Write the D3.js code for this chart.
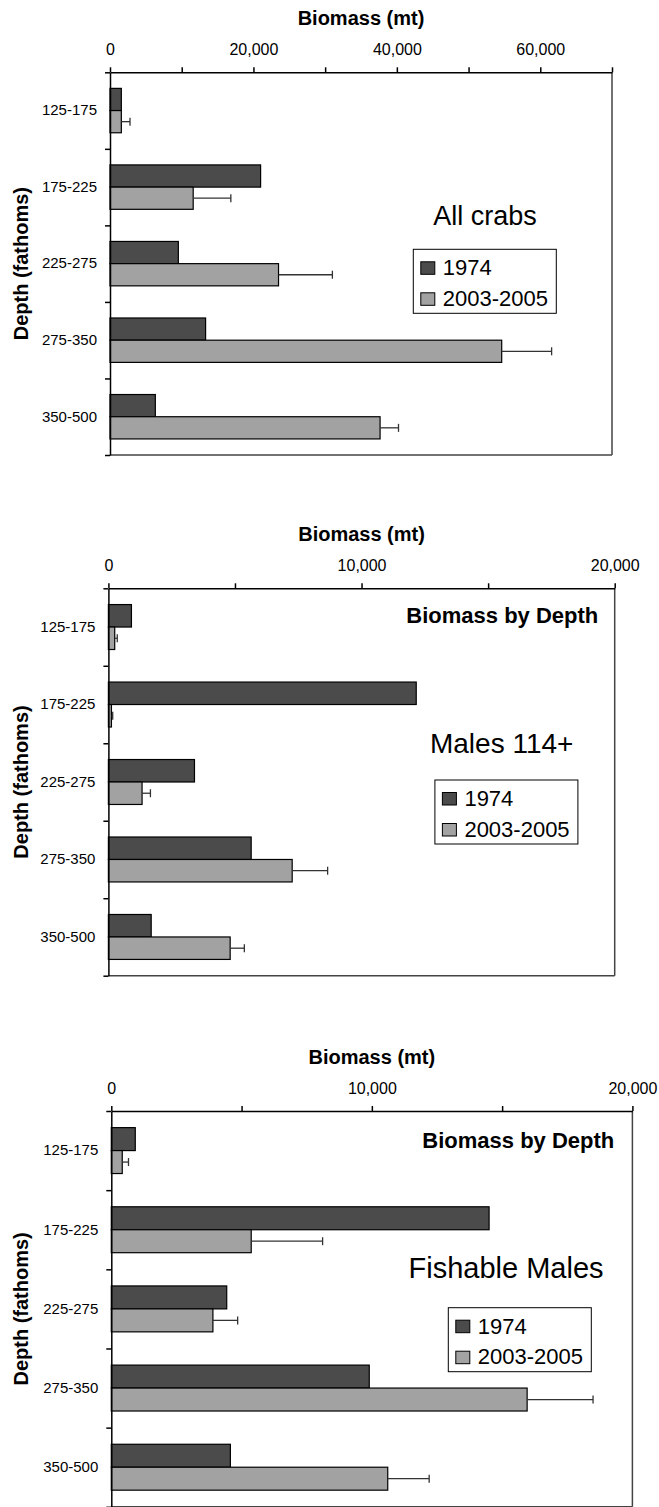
<!DOCTYPE html>
<html>
<head>
<meta charset="utf-8">
<script src="https://d3js.org/d3.v7.min.js"></script>
<style>
  body { margin: 0; background: #fff; }
  svg { display: block; }
  text { font-family: "Liberation Sans", Arial, sans-serif; fill: #000; }
</style>
</head>
<body>
<svg id="chart" width="659" height="1507"></svg>
<script>

// depth strata (fathoms) and the two survey periods
var depths = ['125-175', '175-225', '225-275', '275-350', '350-500'];
var seriesNames = ['1974', '2003-2005'];

// all crabs, biomass (mt)
var allCrabs1974 = [1580, 21000, 9530, 13330, 6320];
var allCrabs0305 = [1580, 11600, 23500, 54620, 37660];
var allCrabsErr = [1210, 5250, 7510, 6960, 2570];

// males 114+
var males1974 = [910, 12160, 3400, 5640, 1690];
var males0305 = [250, 120, 1330, 7260, 4810];
var malesErr = [100, 50, 330, 1400, 560];

// fishable males
var fish1974 = [920, 14500, 4430, 9900, 4570];
var fish0305 = [420, 5370, 3900, 15960, 10610];
var fishErr = [240, 2740, 950, 2530, 1590];

var colors = ['#4b4b4b', '#a2a2a2'];
var fmt = d3.format(',');

// one entry per chart, layout kept apart from the values
var panels = [
    {
        values: [allCrabs1974, allCrabs0305], err: allCrabsErr,
        max: 70000, tickStep: 10000, labelStep: 20000,
        left: 110, right: 612, top: 72.3, bottom: 455,
        label: 'All crabs', labelSize: 27, labelX: 485, labelY: 225,
        subtitle: null,
        legendX: 413.3, legendY: 249.3
    },
    {
        values: [males1974, males0305], err: malesErr,
        max: 20000, tickStep: 5000, labelStep: 10000,
        left: 108.4, right: 614.7, top: 588.3, bottom: 975.7,
        label: 'Males 114+', labelSize: 28, labelX: 501.7, labelY: 753.3,
        subtitle: 'Biomass by Depth', subX: 598.3, subY: 623.3,
        legendX: 434.9, legendY: 780
    },
    {
        values: [fish1974, fish0305], err: fishErr,
        max: 20000, tickStep: 5000, labelStep: 10000,
        left: 111.3, right: 632.4, top: 1111, bottom: 1506.8,
        label: 'Fishable Males', labelSize: 29, labelX: 506, labelY: 1278.3,
        subtitle: 'Biomass by Depth', subX: 614.3, subY: 1148.3,
        legendX: 448.3, legendY: 1307.7
    }
];

var svg = d3.select('#chart');

panels.forEach(function (p) {

    var g = svg.append('g');

    var x = d3.scaleLinear().domain([0, p.max]).range([p.left, p.right]);

    var y = d3.scaleBand()
        .domain(depths)
        .range([p.top, p.bottom])
        .paddingInner(0.42)
        .paddingOuter(0.21);

    var ySub = d3.scaleBand()
        .domain(d3.range(seriesNames.length))
        .range([0, y.bandwidth()]);

    // bars
    p.values.forEach(function (vals, s) {
        g.selectAll(null)
            .data(vals)
            .enter()
            .append('rect')
            .attr('x', x(0))
            .attr('y', function (d, i) { return y(depths[i]) + ySub(s); })
            .attr('width', function (d) { return x(d) - x(0); })
            .attr('height', ySub.bandwidth())
            .attr('fill', colors[s])
            .attr('stroke', '#000')
            .attr('stroke-width', 1.2);
    });

    // error bars on the recent survey
    var recent = p.values[1];
    var errG = g.append('g')
        .attr('stroke', '#333')
        .attr('stroke-width', 1.3);

    recent.forEach(function (v, i) {
        var cy = y(depths[i]) + ySub(1) + ySub.bandwidth() / 2;
        var xe = x(v + p.err[i]);
        errG.append('line')
            .attr('x1', x(v)).attr('x2', xe)
            .attr('y1', cy).attr('y2', cy);
        errG.append('line')
            .attr('x1', xe).attr('x2', xe)
            .attr('y1', cy - 4).attr('y2', cy + 4);
    });

    // plot frame on the right and bottom
    g.append('line')
        .attr('x1', p.right).attr('x2', p.right)
        .attr('y1', p.top).attr('y2', p.bottom)
        .attr('stroke', '#444').attr('stroke-width', 1.5);
    g.append('line')
        .attr('x1', p.left).attr('x2', p.right)
        .attr('y1', p.bottom).attr('y2', p.bottom)
        .attr('stroke', '#444').attr('stroke-width', 1.5);

    // top value axis
    var xAxis = d3.axisTop(x)
        .tickValues(d3.range(0, p.max + 1, p.tickStep))
        .tickSize(5)
        .tickSizeOuter(0)
        .tickPadding(12.5)
        .tickFormat(function (d) { return d % p.labelStep === 0 ? fmt(d) : ''; });

    var xg = g.append('g')
        .attr('transform', 'translate(0,' + p.top + ')')
        .call(xAxis);
    xg.selectAll('path, line').attr('stroke', '#000').attr('stroke-width', 1.5);
    xg.selectAll('text')
        .style('font-family', '"Liberation Sans", Arial, sans-serif')
        .style('font-size', '16px')
        .attr('fill', '#000');

    // left axis with ticks on the category boundaries
    var yIdx = d3.scaleLinear().domain([0, depths.length]).range([p.top, p.bottom]);
    var yTicks = d3.axisLeft(yIdx)
        .tickValues(d3.range(0, depths.length + 1))
        .tickFormat('')
        .tickSize(5)
        .tickSizeOuter(0);
    var yg = g.append('g')
        .attr('transform', 'translate(' + p.left + ',0)')
        .call(yTicks);
    yg.selectAll('path, line').attr('stroke', '#000').attr('stroke-width', 1.5);

    // depth labels
    var yl = g.append('g')
        .attr('transform', 'translate(' + p.left + ',0)')
        .call(d3.axisLeft(y).tickSize(0).tickPadding(13));
    yl.select('.domain').remove();
    yl.selectAll('text')
        .style('font-family', '"Liberation Sans", Arial, sans-serif')
        .style('font-size', '15px')
        .attr('fill', '#000');

    // axis titles
    g.append('text')
        .attr('x', (p.left + p.right) / 2)
        .attr('y', p.top - 47.5)
        .attr('text-anchor', 'middle')
        .style('font-size', '20px')
        .style('font-weight', 'bold')
        .text('Biomass (mt)');

    g.append('text')
        .attr('transform', 'translate(28,' + (p.top + p.bottom) / 2 + ') rotate(-90)')
        .attr('text-anchor', 'middle')
        .style('font-size', '20px')
        .style('font-weight', 'bold')
        .text('Depth (fathoms)');

    // chart labels
    if (p.subtitle) {
        g.append('text')
            .attr('x', p.subX)
            .attr('y', p.subY)
            .attr('text-anchor', 'end')
            .style('font-size', '22px')
            .style('font-weight', 'bold')
            .text(p.subtitle);
    }

    g.append('text')
        .attr('x', p.labelX)
        .attr('y', p.labelY)
        .attr('text-anchor', 'middle')
        .style('font-size', p.labelSize + 'px')
        .text(p.label);

    // legend
    var lg = g.append('g')
        .attr('transform', 'translate(' + p.legendX + ',' + p.legendY + ')');

    lg.append('rect')
        .attr('width', 143)
        .attr('height', 64)
        .attr('fill', '#fff')
        .attr('stroke', '#000')
        .attr('stroke-width', 1);

    seriesNames.forEach(function (name, s) {
        lg.append('rect')
            .attr('x', 7.5)
            .attr('y', 12.5 + s * 31)
            .attr('width', 14)
            .attr('height', 12.5)
            .attr('fill', colors[s])
            .attr('stroke', '#000')
            .attr('stroke-width', 1);
        lg.append('text')
            .attr('x', 29.5)
            .attr('y', 26.2 + s * 30.5)
            .style('font-size', '22px')
            .text(name);
    });
});

</script>
</body>
</html>
